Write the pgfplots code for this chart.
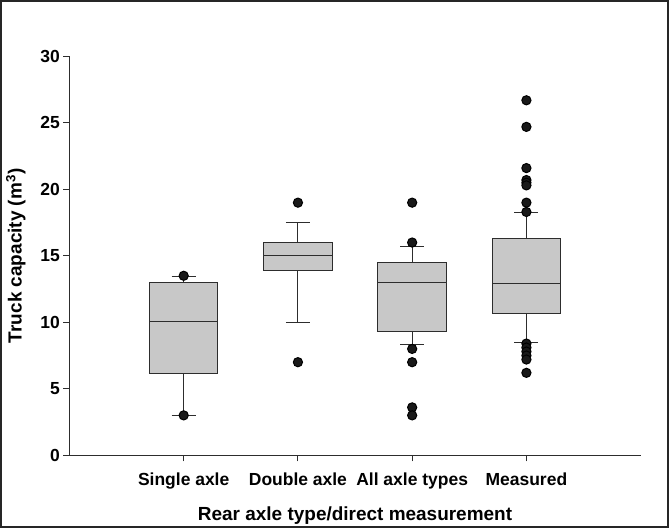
\documentclass[border=0pt]{standalone}
\usepackage{pgfplots}
\pgfplotsset{compat=1.18}
\usepgfplotslibrary{statistics}
\usepackage{fontspec}
\setmainfont{Liberation Sans}
\definecolor{boxgray}{RGB}{200,200,200}
\definecolor{linegray}{RGB}{45,45,45}

\begin{document}
\begin{tikzpicture}[x=1bp,y=1bp]
\begin{axis}[
  at={(0,0)}, anchor=south west,
  scale only axis, width=570bp, height=398bp,
  xmin=0, xmax=5, ymin=0, ymax=30,
  axis x line*=bottom, axis y line*=left,
  axis line style={linegray, line width=0.9bp},
  tick style={linegray, line width=0.9bp},
  tick align=outside, major tick length=6bp,
  xtick={1,2,3,4},
  xticklabels={Single axle, Double axle, All axle types, Measured},
  ytick={0,5,...,30},
  ticklabel style={font=\fontsize{17.5}{20}\selectfont\bfseries},
  xticklabel style={yshift=-8bp},
  /pgf/number format/assume math mode=true,
  xlabel={Rear axle type/direct measurement},
  ylabel={Truck capacity (m\textsuperscript{3})},
  label style={font=\fontsize{19}{22}\selectfont\bfseries},
  xlabel style={yshift=-11bp},
  ylabel style={yshift=8bp},
  boxplot/draw direction=y,
  boxplot/box extend=0.6,
  boxplot/whisker extend=0.21,
  clip=false,
]
\pgfplotsset{
  mybox/.style={draw=linegray, fill=boxgray, line width=1bp,
    mark=*, mark size=4.6bp, mark options={draw=black, fill=black!90, solid}},
}
% Single axle
\addplot[mybox, boxplot prepared={draw position=1,
  lower whisker=3.0, lower quartile=6.16, median=10.05,
  upper quartile=13.0, upper whisker=13.47}]
  table[row sep=\\, y index=0] {v\\ 13.5\\ 3.0\\};
% Double axle
\addplot[mybox, boxplot prepared={draw position=2,
  lower whisker=10.0, lower quartile=13.87, median=15.0,
  upper quartile=16.0, upper whisker=17.5}]
  table[row sep=\\, y index=0] {v\\ 19.0\\ 7.0\\};
% All axle types
\addplot[mybox, boxplot prepared={draw position=3,
  lower whisker=8.3, lower quartile=9.3, median=13.0,
  upper quartile=14.52, upper whisker=15.7}]
  table[row sep=\\, y index=0] {v\\ 19.0\\ 16.0\\ 8.0\\ 7.0\\ 3.6\\ 3.0\\};
% Measured
\addplot[mybox, boxplot prepared={draw position=4,
  lower whisker=8.46, lower quartile=10.68, median=12.9,
  upper quartile=16.33, upper whisker=18.26}]
  table[row sep=\\, y index=0] {v\\ 26.7\\ 24.7\\ 21.6\\ 20.7\\ 20.5\\ 20.3\\ 19.0\\ 18.3\\
    8.4\\ 8.1\\ 7.8\\ 7.5\\ 7.2\\ 6.2\\};
\end{axis}
\draw[black!85, line width=1.6bp] (-68.5bp,-71.5bp) rectangle (597.5bp,453.5bp);
\end{tikzpicture}
\end{document}
